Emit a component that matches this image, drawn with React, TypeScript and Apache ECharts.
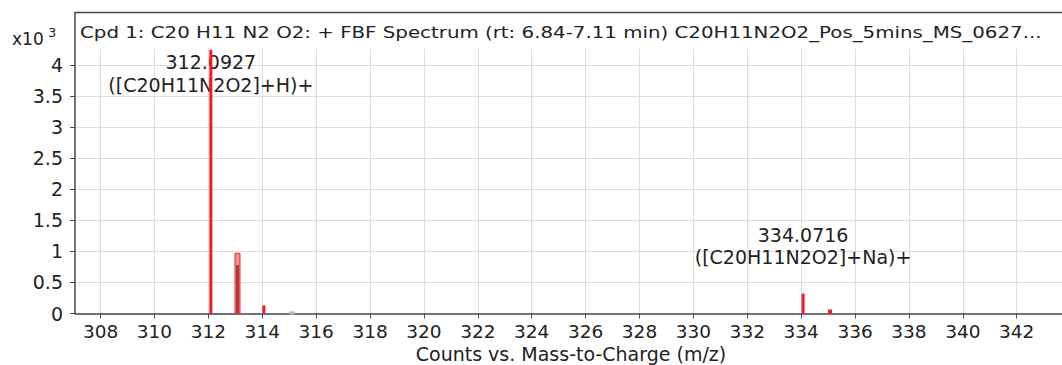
import React, { useEffect, useRef } from "react";
import * as echarts from "echarts";

// ---- data (intensity in units of 10^3 counts) ----
const xTicks = [308, 310, 312, 314, 316, 318, 320, 322, 324, 326, 328, 330, 332, 334, 336, 338, 340, 342];
const yTicks = [0, 0.5, 1, 1.5, 2, 2.5, 3, 3.5, 4];

const observedMz = [312.0927, 313.08, 314.06, 334.0716, 335.07];
const observedIntensity = [4.25, 0.78, 0.13, 0.32, 0.065];

const predictedMz = [313.08, 315.1];
const predictedIntensity = [0.97, 0.025];

const annotationMz = [312.0927, 334.0716];
const annotationIon = ["([C20H11N2O2]+H)+", "([C20H11N2O2]+Na)+"];

const titleText =
  "Cpd 1: C20 H11 N2 O2: + FBF Spectrum (rt: 6.84-7.11 min) C20H11N2O2_Pos_5mins_MS_0627...";
const xAxisName = "Counts vs. Mass-to-Charge (m/z)";

const FONT = "DejaVu Sans";
const TEXT = "#222";
const AXIS = "#4a4a4a";
const GRID = "#dedede";
const predictedColors = [
  { fill: "#f39191", stroke: "#e52a2a" },
  { fill: "#dcc0e6", stroke: "#c7a0d5" },
];

export default function App() {
  const ref = useRef<HTMLDivElement>(null);
  useEffect(() => {
    if (!ref.current) return;
    const chart = echarts.init(ref.current, null, { renderer: "svg" });

    const option: any = {
      animation: false,
      backgroundColor: "#fff",
      grid: { left: 75, right: 0, top: 12.5, bottom: 51.5, containLabel: false, outerBoundsMode: "none" },
      xAxis: {
        type: "value",
        min: 307.05,
        max: 343.68,
        axisLine: { show: true, lineStyle: { color: AXIS, width: 1.5 } },
        axisTick: { show: true, customValues: xTicks, length: 5, lineStyle: { color: AXIS, width: 1 } },
        axisLabel: {
          customValues: xTicks,
          fontFamily: FONT,
          fontSize: 18.5,
          lineHeight: 17,
          color: TEXT,
          margin: 9,
        },
        splitLine: { show: true, lineStyle: { color: GRID, width: 1 } },
      },
      yAxis: {
        type: "value",
        min: 0,
        max: 4.85,
        interval: 0.5,
        axisLine: { show: true, lineStyle: { color: AXIS, width: 1.5 } },
        axisTick: { show: true, customValues: yTicks, length: 5, lineStyle: { color: AXIS, width: 1 } },
        axisLabel: { customValues: yTicks, fontFamily: FONT, fontSize: 19, color: TEXT, margin: 12 },
        splitLine: { show: true, lineStyle: { color: GRID, width: 1 } },
      },
      series: [
        {
          type: "custom",
          name: "predicted",
          z: 2,
          data: predictedMz.map((m, i) => [m, predictedIntensity[i]]),
          renderItem: (params: any, api: any) => {
            const m = api.value(0);
            const h = api.value(1);
            const base = api.coord([m, 0]);
            const top = api.coord([m, h]);
            const w = 5;
            const c = predictedColors[params.dataIndex] || predictedColors[0];
            return {
              type: "rect",
              shape: { x: base[0] - w / 2, y: top[1], width: w, height: Math.max(base[1] - top[1], 2) },
              style: { fill: c.fill, stroke: c.stroke, lineWidth: 1 },
            };
          },
        },
        {
          type: "custom",
          name: "observed",
          z: 3,
          data: observedMz.map((m, i) => [m, observedIntensity[i]]),
          renderItem: (params: any, api: any) => {
            const m = api.value(0);
            const h = api.value(1);
            const base = api.coord([m, 0]);
            const top = api.coord([m, h]);
            const inBox = predictedMz.some((p) => Math.abs(p - m) < 0.2);
            const w = h < 0.1 ? 4 : 3;
            const children: any[] = [];
            const ai = annotationMz.findIndex((a) => Math.abs(a - m) < 0.01);
            if (ai >= 0) {
              const blockH = 45;
              const yTop = Math.max(top[1] - 25 - blockH, 51);
              children.push({
                type: "text",
                style: {
                  text: annotationMz[ai].toFixed(4) + "\n" + annotationIon[ai],
                  x: base[0],
                  y: yTop,
                  align: "center",
                  verticalAlign: "top",
                  fontFamily: FONT,
                  fontSize: 19,
                  lineHeight: 22.5,
                  fill: TEXT,
                },
              });
            }
            children.push({
              type: "rect",
              shape: { x: base[0] - w / 2, y: top[1], width: w, height: base[1] - top[1] },
              style: { fill: inBox ? "#b2363a" : "#ee1c25" },
            });
            return { type: "group", children };
          },
        },
      ],
      graphic: [
        {
          type: "rect",
          x: 76.5,
          y: 13.5,
          z: 10,
          shape: { x: 0, y: 0, width: 986, height: 35 },
          style: { fill: "#fff" },
        },
        {
          type: "text",
          x: 80,
          y: 32.5,
          scaleX: 1.2,
          scaleY: 1,
          z: 11,
          style: {
            text: titleText,
            x: 0,
            y: 0,
            verticalAlign: "middle",
            fontFamily: FONT,
            fontSize: 16.5,
            fill: TEXT,
          },
        },
        {
          type: "line",
          z: 12,
          shape: { x1: 75, y1: 12.5, x2: 1062, y2: 12.5 },
          style: { stroke: AXIS, lineWidth: 1.5 },
        },
        {
          type: "text",
          x: 12,
          y: 39,
          z: 11,
          style: { text: "x10", x: 0, y: 0, verticalAlign: "middle", fontFamily: FONT, fontSize: 17, fill: TEXT },
        },
        {
          type: "text",
          x: 48,
          y: 32.5,
          z: 11,
          style: { text: "3", x: 0, y: 0, verticalAlign: "middle", fontFamily: FONT, fontSize: 13, fill: TEXT },
        },
        {
          type: "text",
          x: 571,
          y: 353.5,
          z: 11,
          style: {
            text: xAxisName,
            x: 0,
            y: 0,
            align: "center",
            verticalAlign: "middle",
            fontFamily: FONT,
            fontSize: 19,
            lineHeight: 19,
            fill: TEXT,
          },
        },
      ],
    };
    chart.setOption(option);
    return () => chart.dispose();
  }, []);
  return (
    <div
      ref={ref}
      style={{ position: "absolute", left: 0, top: 0, width: 1062, height: 365 }}
    />
  );
}
